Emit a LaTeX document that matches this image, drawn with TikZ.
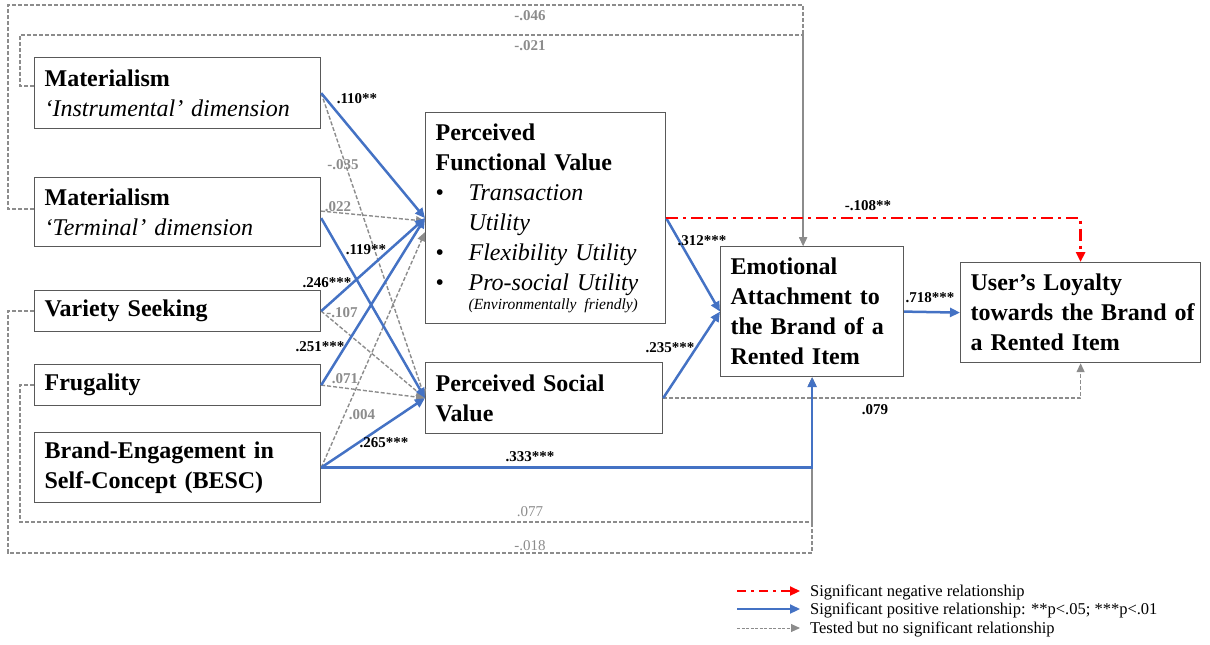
\documentclass[tikz,border=0pt]{standalone}
\usepackage{fontspec}
\setmainfont{Liberation Serif}
\usetikzlibrary{arrows.meta}
\definecolor{bblue}{HTML}{4472C4}
\definecolor{dgray}{HTML}{8C8C8C}
\definecolor{bgray}{HTML}{595959}
\definecolor{rred}{HTML}{FF0000}
\begin{document}
\begin{tikzpicture}[x=1pt,y=-1pt,
  box/.style={draw=bgray,line width=1.2pt,fill=white,inner xsep=10pt,inner ysep=0pt,
    align=left,anchor=north west,font=\fontsize{24}{30}\selectfont},
  posarr/.style={draw=bblue,line width=2.5pt,-{Triangle[length=10pt,width=9pt]}},
  nsarr/.style={draw=dgray,line width=1.4pt,dash pattern=on 4pt off 2pt,-{Triangle[length=9pt,width=8pt]}},
  negarr/.style={draw=rred,line width=2.6pt,dash pattern=on 12pt off 5pt on 3pt off 5pt,-{Triangle[length=10pt,width=9pt]}},
  lab/.style={font=\fontsize{15}{16}\selectfont\bfseries,inner sep=0pt},
  glab/.style={lab,text=dgray},
  leg/.style={font=\fontsize{16.5}{18}\selectfont,anchor=west,inner sep=0pt}]
\useasboundingbox (0,0) rectangle (1210,645);
% boxes
\node[box,text width=266pt,minimum height=71pt] (M1) at (34,57)
  {\textbf{Materialism}\\\mbox{\textit{‘Instrumental’ dimension}}};
\node[box,text width=266pt,minimum height=69pt] (M2) at (34,177)
  {\textbf{Materialism}\\\textit{‘Terminal’ dimension}};
\node[box,text width=266pt,minimum height=41pt] (VS) at (34,290)
  {\textbf{Variety Seeking}};
\node[box,text width=266pt,minimum height=41pt] (FR) at (34,364)
  {\textbf{Frugality}};
\node[box,text width=266pt,minimum height=70pt] (BE) at (34,432)
  {\textbf{Brand-Engagement in}\\\textbf{Self-Concept (BESC)}};
\node[box,text width=220pt,minimum height=211pt] (PF) at (425,112)
  {\textbf{Perceived}\\\textbf{Functional Value}\\
   \makebox[33pt][l]{•}\textit{Transaction}\\
   \hspace*{33pt}\textit{Utility}\\
   \makebox[33pt][l]{•}\mbox{\textit{Flexibility Utility}}\\
   \makebox[33pt][l]{•}\mbox{\textit{Pro-social Utility}}\\[-11pt]
   \hspace*{33pt}\mbox{\fontsize{15.5}{16}\selectfont\itshape (Environmentally friendly)}};
\node[box,text width=217pt,minimum height=71pt] (PS) at (425,362)
  {\textbf{Perceived Social}\\\textbf{Value}};
\node[box,text width=163pt,minimum height=130pt] (EA) at (720,246)
  {\textbf{Emotional}\\\mbox{\textbf{Attachment to}}\\\mbox{\textbf{the Brand of a}}\\\textbf{Rented Item}};
\node[box,text width=220pt,minimum height=100pt] (UL) at (960,262)
  {\textbf{User’s Loyalty}\\\mbox{\textbf{towards the Brand of}}\\\textbf{a Rented Item}};
% helper coordinates
\coordinate (t1) at (20,35);
\coordinate (t2) at (8,5);
\coordinate (b1) at (20,522);
\coordinate (b2) at (8,553);
\coordinate (EAt) at ([xshift=-9pt]EA.north);
% outer non-significant loops
\draw[nsarr] ([yshift=7pt]M1.west) -| (t1) -| (EAt);
\draw[nsarr] ([yshift=3pt]M2.west) -| (t2) -| (EAt);
\draw[nsarr] (FR.west) -| (b1) -| (EA.south);
\draw[nsarr] (VS.west) -| (b2) -| (EA.south);
% left paths
\draw[nsarr] (M1.east) -- (PS.west);
\draw[nsarr] ([yshift=1pt]M2.east) -- ([yshift=-3pt]PF.west);
\draw[nsarr] (VS.east) -- (PS.west);
\draw[nsarr] (FR.east) -- (PS.west);
\draw[nsarr] (BE.east) -- ([yshift=-14pt]PF.west);
\draw[posarr] (M1.east) -- (PF.west);
\draw[posarr] ([yshift=-6pt]M2.east) -- (PS.west);
\draw[posarr] (VS.east) -- (PF.west);
\draw[posarr] (FR.east) -- (PF.west);
\draw[posarr] (BE.east) -- (PS.west);
\draw[posarr] (BE.east) -| (EA.south);
% right paths
\draw[nsarr] (PS.east) -| (UL.south);
\draw[posarr] (PF.east) -- (EA.west);
\draw[posarr] (PS.east) -- (EA.west);
\draw[posarr] (EA.east) -- (UL.west);
\draw[negarr] (PF.east) -| (UL.north);
% labels
\node[glab] (l046) at (530,16) {-.046};
\node[glab] (l021) at (530,46) {-.021};
\node[glab,font=\fontsize{15}{16}\selectfont] (l077) at (530,512) {.077};
\node[glab,font=\fontsize{15}{16}\selectfont] (l018) at (530,546) {-.018};
\node[lab] (l333) at (530,457) {.333***};
\node[lab] (l079) at (875,410) {.079};
\node[lab] (l108) at (868,206) {-.108**};
\node[lab] (l718) at (930,298) {.718***};
\node[lab] (l312) at (702,241) {.312***};
\node[lab] (l235) at (670,348) {.235***};
\node[lab] (l110) at (357,99) {.110**};
\node[glab] (l035) at (343,165) {-.035};
\node[glab] (l022) at (338,207) {.022};
\node[lab] (l119) at (366,250) {.119**};
\node[lab] (l246) at (327,283) {.246***};
\node[glab] (l107) at (342,313) {-.107};
\node[lab] (l251) at (320,347) {.251***};
\node[glab] (l071) at (345,379) {.071};
\node[glab] (l004) at (362,415) {.004};
\node[lab] (l265) at (384,443) {.265***};
% legend
\coordinate (g1a) at (737,591); \coordinate (g1b) at (800,591);
\coordinate (g2a) at (737,609); \coordinate (g2b) at (800,609);
\coordinate (g3a) at (737,628); \coordinate (g3b) at (800,628);
\draw[negarr,line width=2.2pt,dash pattern=on 9pt off 5pt on 3pt off 5pt] (g1a) -- (g1b);
\draw[posarr,line width=2.2pt] (g2a) -- (g2b);
\draw[nsarr,line width=1pt,dash pattern=on 3pt off 1.5pt] (g3a) -- (g3b);
\node[leg] (t1l) at (810,592) {Significant negative relationship};
\node[leg] (t2l) at (810,610) {Significant positive relationship: **p<.05; ***p<.01};
\node[leg] (t3l) at (810,629) {Tested but no significant relationship};
\end{tikzpicture}
\end{document}
